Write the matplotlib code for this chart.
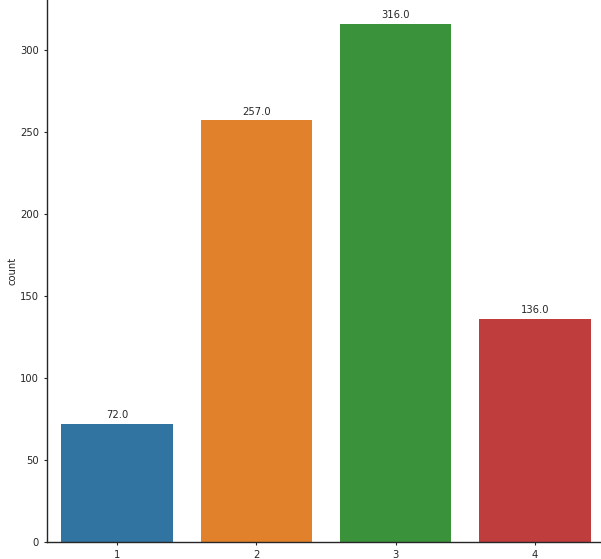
import matplotlib
matplotlib.use("Agg")
import matplotlib.pyplot as plt

categories = ["1", "2", "3", "4"]
counts = [72, 257, 316, 136]
colors = ["#3274a1", "#e1812c", "#3a923a", "#c03d3e"]

W, H = 601, 559
fig = plt.figure(figsize=(W / 100, H / 100), dpi=100)
left, right, bottom, top = 47.3, 604.7, 541.5, 0
ax = fig.add_axes([left / W, (H - bottom) / H, (right - left) / W, (bottom - top) / H])

x = list(range(len(categories)))
bars = ax.bar(x, counts, width=0.8, color=colors)
ax.set_xlim(-0.5, 3.5)
ax.set_ylim(0, 330.5)
ax.set_xticks(x)
ax.set_xticklabels(categories)
ax.set_yticks([0, 50, 100, 150, 200, 250, 300])
ax.tick_params(labelsize=7.2, length=2.5, width=0.8, colors="#262626")
ax.set_ylabel("count", fontsize=7.2, color="#262626", labelpad=1.8)
for s in ["top", "right"]:
    ax.spines[s].set_visible(False)
for s in ["left", "bottom"]:
    ax.spines[s].set_color("#262626")
    ax.spines[s].set_linewidth(1.0)

for b, v in zip(bars, counts):
    ax.annotate(f"{float(v):.1f}", (b.get_x() + b.get_width() / 2, v),
                xytext=(0, 2.8), textcoords="offset points", ha="center", va="bottom",
                fontsize=7.2, color="#262626")

fig.savefig("out.png", dpi=100)
